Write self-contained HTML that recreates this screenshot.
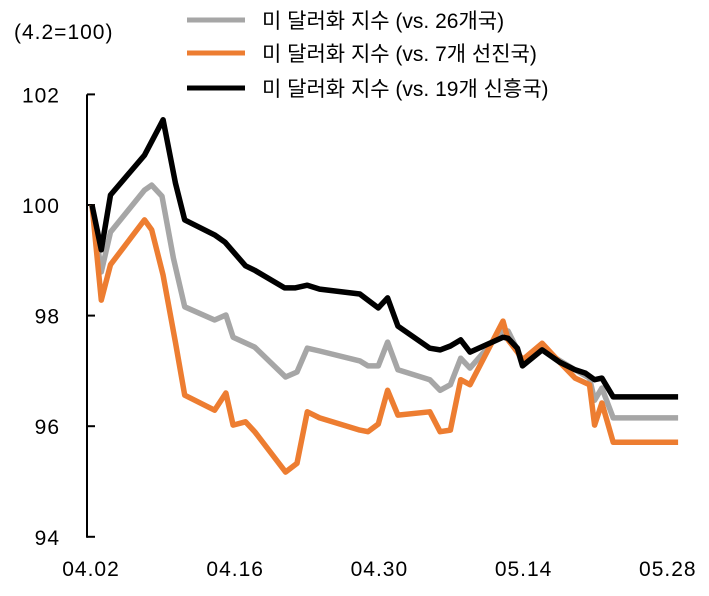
<!DOCTYPE html>
<html><head><meta charset="utf-8"><style>
body{margin:0;background:#fff}
svg text{font-family:"Liberation Sans","Noto Sans CJK KR",sans-serif;fill:#000}
</style></head><body>
<svg width="709" height="591">
<text x="14" y="39" font-size="21" letter-spacing="1">(4.2=100)</text>
<g>
<line x1="187" y1="20" x2="245" y2="20" stroke="#a6a6a6" stroke-width="5"/>
<text x="262" y="28" font-size="21">미 달러화 지수 (vs. 26개국)</text>
<line x1="187" y1="53" x2="245" y2="53" stroke="#ed7d31" stroke-width="5"/>
<text x="262" y="61" font-size="21">미 달러화 지수 (vs. 7개 선진국)</text>
<line x1="187" y1="88" x2="245" y2="88" stroke="#000" stroke-width="5"/>
<text x="262" y="96" font-size="21">미 달러화 지수 (vs. 19개 신흥국)</text>
</g>
<g id="axes"></g>
<g id="plot"></g>
</svg>
<script>
const yTicks=[94,96,98,100,102];
const xTickDays=[0,14,28,42,56];
const xTickLabels=["04.02","04.16","04.30","05.14","05.28"];
const daysBlack=[0,0.9,1.8,5.1,6.9,8.1,9.0,11.9,12.9,14.9,15.8,18.7,19.7,20.9,22.1,26.0,27.8,28.7,29.7,32.8,33.8,34.8,35.8,36.7,39.9,40.4,41.3,41.8,43.7,45.4,46.9,47.9,48.8,49.5,50.6,56.9];
const valsBlack=[100,99.19,100.18,100.90,101.54,100.40,99.73,99.46,99.33,98.90,98.82,98.50,98.50,98.55,98.48,98.39,98.14,98.32,97.81,97.41,97.38,97.45,97.56,97.34,97.61,97.59,97.41,97.09,97.38,97.16,97.02,96.96,96.84,96.87,96.53,96.53];
const daysGray=[0,0.9,1.8,5.1,5.8,6.8,7.9,9.0,11.9,13.0,13.7,15.8,18.8,19.9,20.9,22.1,26.0,26.8,27.8,28.7,29.7,32.8,33.8,34.8,35.8,36.7,39.9,40.4,41.3,41.8,43.7,46.9,48.3,48.8,49.5,50.6,56.9];
const valsGray=[100,98.79,99.51,100.27,100.36,100.16,99.04,98.16,97.92,98.01,97.61,97.43,96.89,96.98,97.41,97.36,97.18,97.09,97.09,97.52,97.02,96.84,96.65,96.75,97.23,97.05,97.74,97.72,97.38,97.09,97.38,97.02,96.87,96.47,96.69,96.15,96.15];
const daysOrange=[0,0.9,1.8,5.1,5.8,6.9,8.1,9.0,11.9,13.0,13.7,14.9,15.8,18.8,19.9,20.9,22.1,26.0,26.8,27.8,28.7,29.7,32.8,33.8,34.8,35.8,36.7,39.9,40.4,41.3,41.8,43.7,45.4,46.9,48.3,48.8,49.5,50.6,56.9];
const valsOrange=[100,98.28,98.92,99.73,99.55,98.73,97.52,96.56,96.29,96.60,96.02,96.08,95.90,95.17,95.33,96.26,96.15,95.93,95.90,96.04,96.65,96.20,96.26,95.90,95.93,96.84,96.75,97.90,97.56,97.34,97.20,97.50,97.16,96.87,96.75,96.02,96.42,95.71,95.71];
const NS="http://www.w3.org/2000/svg";
const X0=92,PXD=10.3;
function xs(d){return X0+d*PXD;}
function ys(v){return 205-(v-100)*55.3;}
const axes=document.getElementById('axes');
const plot=document.getElementById('plot');
function mk(t,a,p){const e=document.createElementNS(NS,t);for(const k in a)e.setAttribute(k,a[k]);p.appendChild(e);return e;}
const ax=mk('line',{x1:87,y1:ys(102),x2:87,y2:ys(94)+1,stroke:'#000','stroke-width':2},axes);


yTicks.forEach(v=>{
 const t=mk('line',{x1:87,y1:ys(v),x2:95,y2:ys(v),stroke:'#000','stroke-width':2},axes);
 
 
 const l=mk('text',{x:60,y:ys(v)+8,'font-size':21,'letter-spacing':1,'text-anchor':'end'},axes);
 l.textContent=v;
 
 
});
xTickDays.forEach((d,i)=>{
 const l=mk('text',{x:xs(d)-1,y:576,'font-size':21,'letter-spacing':1,'text-anchor':'middle'},axes);
 l.textContent=xTickLabels[i];
 
 
});
function line(days,vals,color,name){
 const pts=days.map((d,i)=>xs(d).toFixed(1)+','+ys(vals[i]).toFixed(1)).join(' ');
 const p=mk('polyline',{points:pts,fill:'none',stroke:color,'stroke-width':5.5,'stroke-linejoin':'round'},plot);
 
 
}
line(daysGray,valsGray,'#a6a6a6','series-26-countries');
line(daysOrange,valsOrange,'#ed7d31','series-7-developed');
line(daysBlack,valsBlack,'#000','series-19-emerging');
</script>
</body></html>
